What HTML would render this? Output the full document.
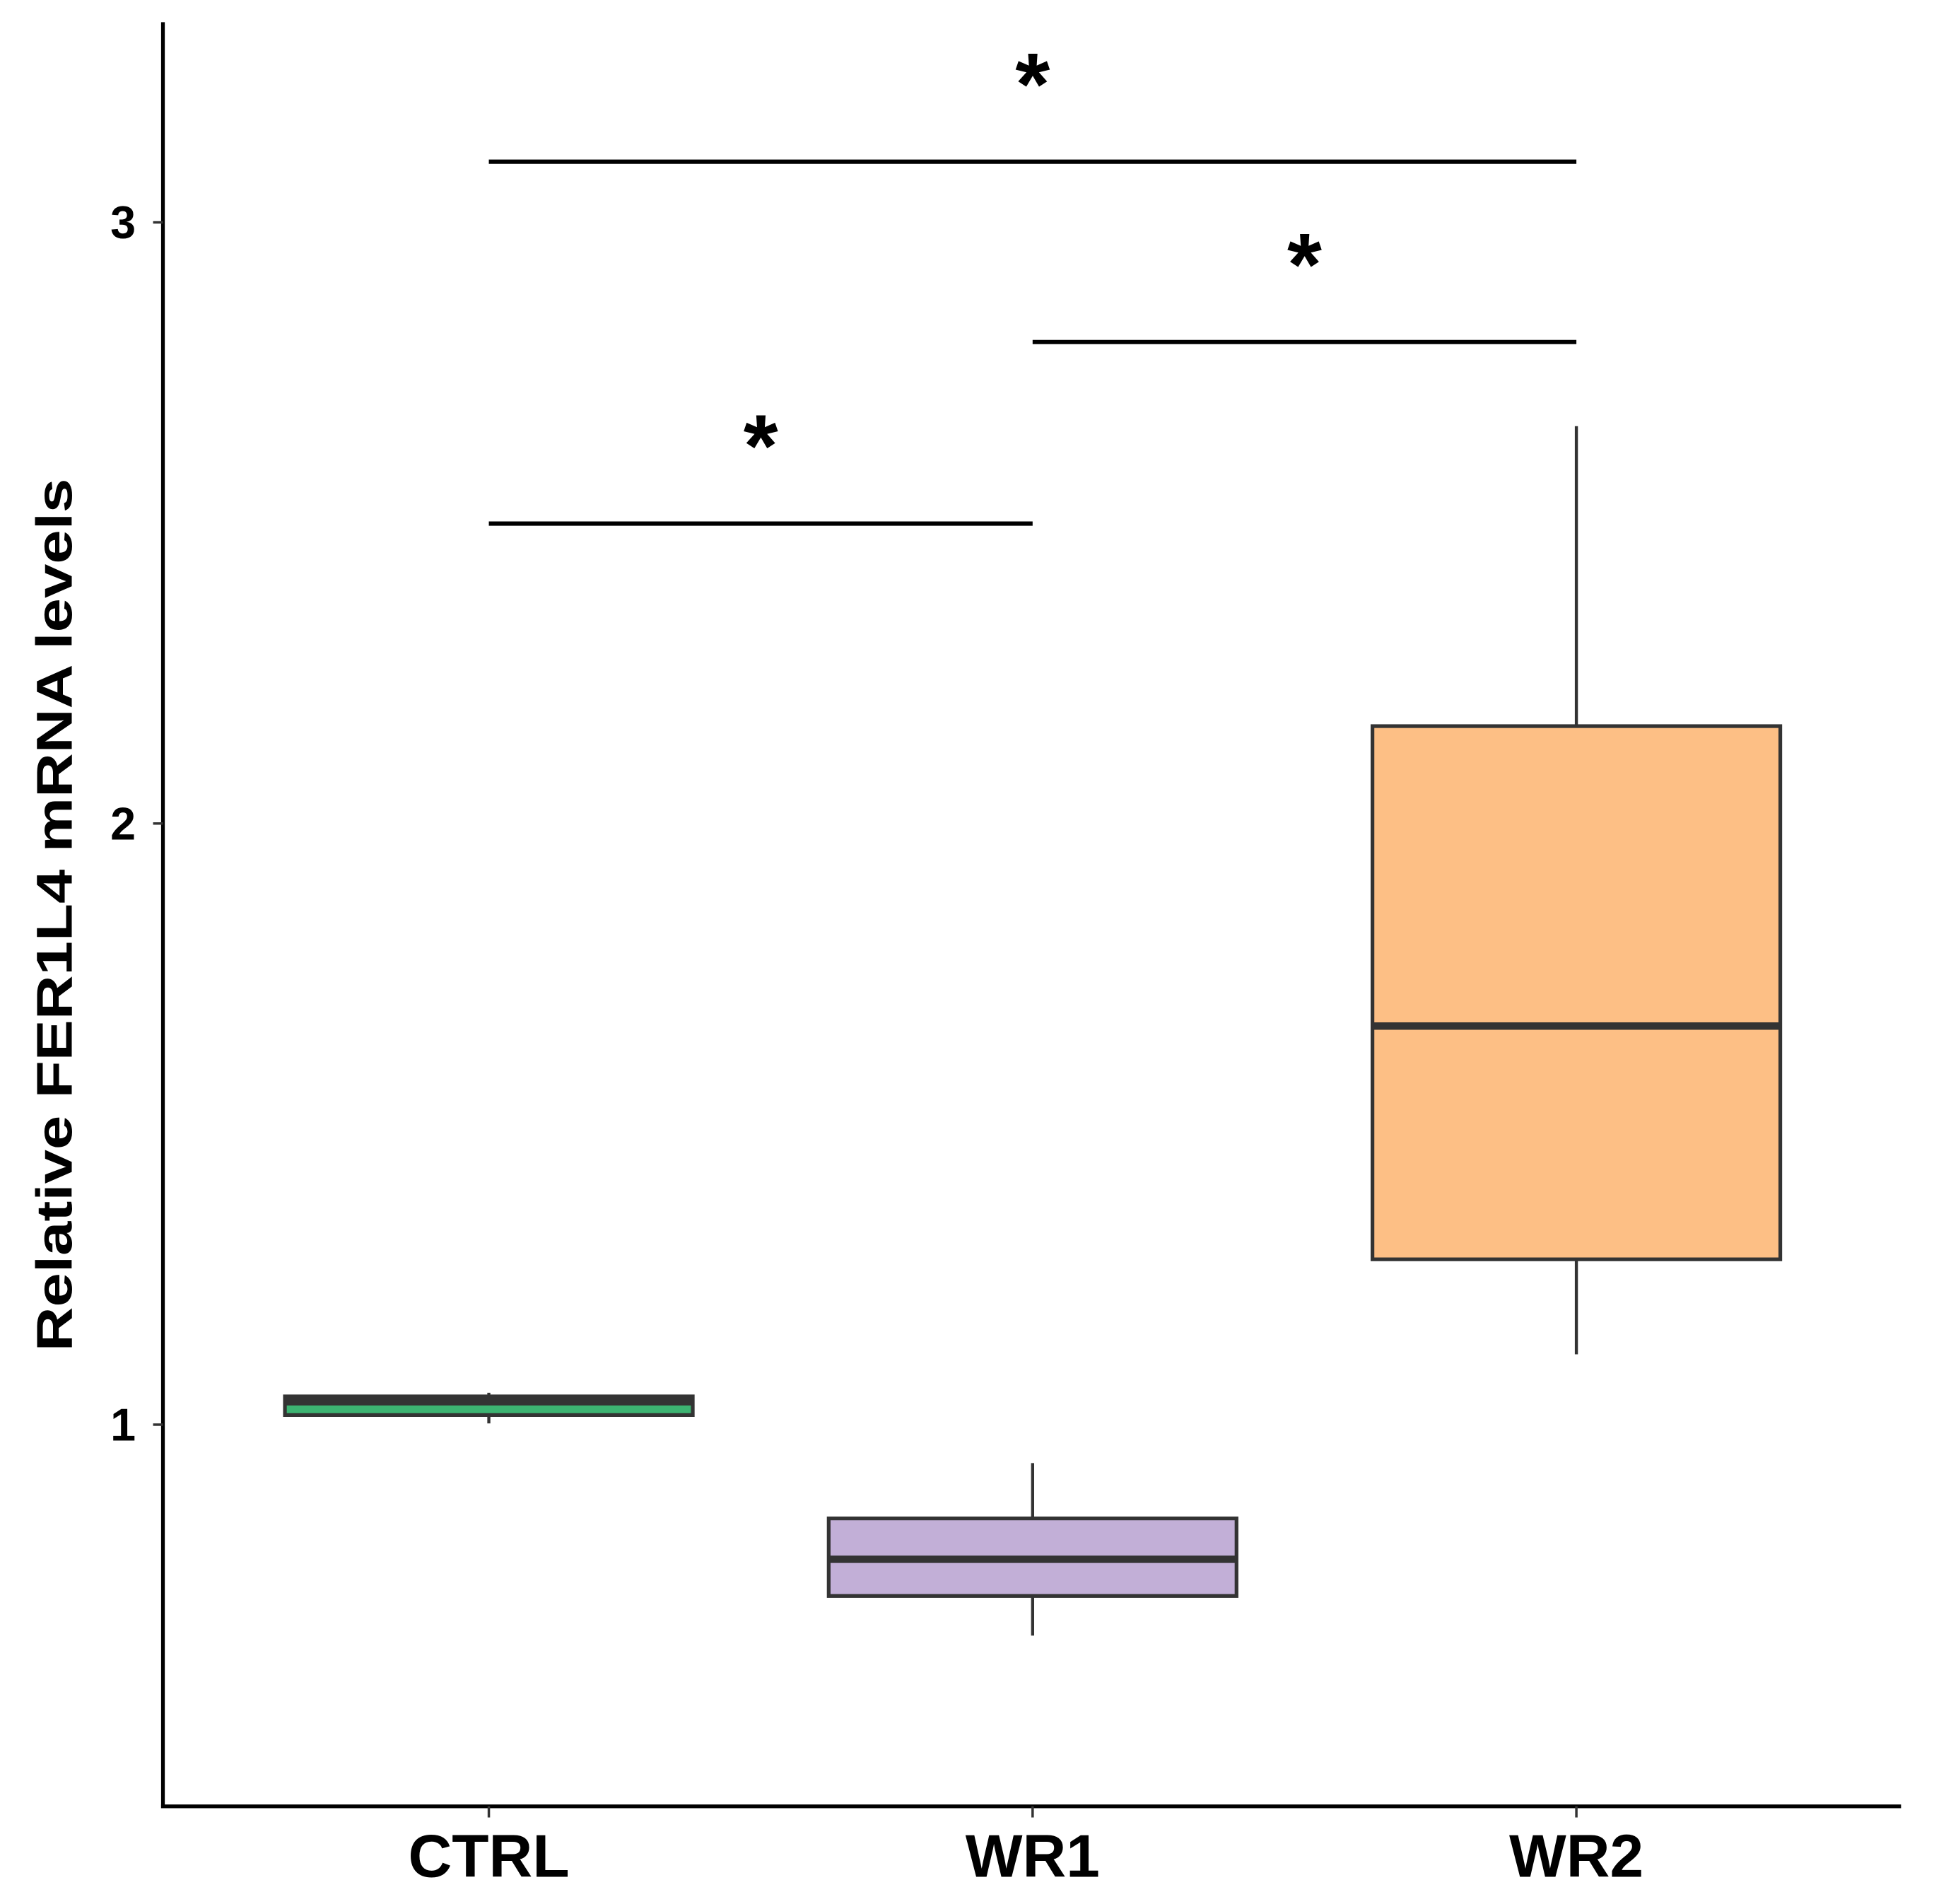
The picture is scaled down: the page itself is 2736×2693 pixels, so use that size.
<!DOCTYPE html>
<html><head><meta charset="utf-8"><style>
html,body{margin:0;padding:0;background:#fff;}
svg{display:block;font-family:"Liberation Sans",Arial,sans-serif;}
</style></head><body>
<svg id="chart" width="2736" height="2693" viewBox="0 0 1566.7 1542.1" preserveAspectRatio="none" xmlns="http://www.w3.org/2000/svg">
<g id="plot"></g>
</svg>
<script>
const categories = ["CTRL", "WR1", "WR2"];
const whiskerLow = [1.002, 0.649, 1.117];
const q1 = [1.016, 0.715, 1.275];
const medians = [1.038, 0.776, 1.663];
const q3 = [1.047, 0.844, 2.162];
const whiskerHigh = [1.053, 0.936, 2.661];
const fills = ["#3cb371", "#c2afd7", "#fdbf85"];
const yTicks = [1, 2, 3];
const yTickLabels = ["1", "2", "3"];
const bracketFrom = [0, 1, 0];
const bracketTo = [1, 2, 2];
const bracketLevel = [2.499, 2.801, 3.101];
const bracketLabels = ["*", "*", "*"];

const NS = "http://www.w3.org/2000/svg";
const g = document.getElementById("plot");
const x0 = 132, x1 = 1540, yTop = 18, yBot = 1463;
const yMin = 0.365, yMax = 3.333;
function y(v){ return yBot - (v - yMin) / (yMax - yMin) * (yBot - yTop); }
const catStart = 396, catStep = 440.5;
function x(i){ return catStart + i * catStep; }
const boxHalf = 0.375 * catStep;

function mk(tag, attrs){ const e = document.createElementNS(NS, tag); for (const k in attrs) e.setAttribute(k, attrs[k]); g.appendChild(e); return e; }

let a = mk("line", {x1:x0, y1:yTop, x2:x0, y2:yBot+1.5, stroke:"#000", "stroke-width":3});


a = mk("line", {x1:x0-1.5, y1:yBot, x2:x1, y2:yBot, stroke:"#000", "stroke-width":3});



yTicks.forEach((t, i) => {
  const tk = mk("line", {x1:x0-8, y1:y(t), x2:x0, y2:y(t), stroke:"#333", "stroke-width":2});
  
  
  const tl = mk("text", {x:x0-22, y:y(t)+13, "text-anchor":"end", "font-size":37, "font-weight":"bold", fill:"#000"});
  tl.textContent = yTickLabels[i];
  
  
});

categories.forEach((c, i) => {
  const cx = x(i);
  const tk = mk("line", {x1:cx, y1:yBot, x2:cx, y2:yBot+9, stroke:"#333", "stroke-width":2});
  
  
  const tl = mk("text", {x:cx, y:1520, "text-anchor":"middle", "font-size":49, "font-weight":"bold", fill:"#000"});
  tl.textContent = c;
  
  

  const w = mk("line", {x1:cx, y1:y(whiskerLow[i]), x2:cx, y2:y(whiskerHigh[i]), stroke:"#333", "stroke-width":2.5});
  
  
  const b = mk("rect", {x:cx-boxHalf, y:y(q3[i]), width:2*boxHalf, height:y(q1[i])-y(q3[i]), fill:fills[i], stroke:"#333", "stroke-width":3});
  
  
  const m = mk("line", {x1:cx-boxHalf, y1:y(medians[i]), x2:cx+boxHalf, y2:y(medians[i]), stroke:"#333", "stroke-width":6});
  
  
});

bracketLevel.forEach((lv, i) => {
  const xa = x(bracketFrom[i]), xb = x(bracketTo[i]);
  const l = mk("line", {x1:xa, y1:y(lv), x2:xb, y2:y(lv), stroke:"#000", "stroke-width":3.5});
  
  
  const s = mk("text", {x:(xa+xb)/2, y:y(lv)-38, "text-anchor":"middle", "font-size":72, "font-weight":"bold", fill:"#000"});
  s.textContent = bracketLabels[i];
  
  
});

const tt = mk("text", {x:0, y:0, "text-anchor":"middle", "font-size":41, "font-weight":"bold", fill:"#000", transform:"translate(58,741) rotate(-90)", textLength:707, lengthAdjust:"spacingAndGlyphs"});
tt.textContent = "Relative FER1L4 mRNA levels";


</script>
</body></html>
